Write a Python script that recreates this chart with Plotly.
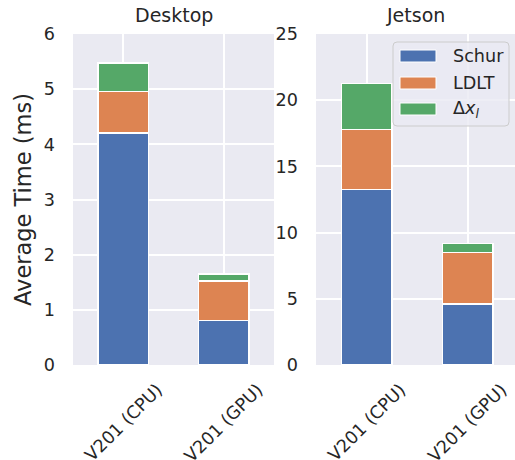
import plotly.graph_objects as go

# ---- data ----
categories = ["V201 (CPU)", "V201 (GPU)"]
series_names = ["Schur", "LDLT", "Δ<i>x</i><sub><i>l</i></sub>"]
colors = ["#4C72B0", "#DD8452", "#55A868"]

desktop_schur = [4.21, 0.81]
desktop_ldlt = [0.75, 0.71]
desktop_dx = [0.51, 0.13]

jetson_schur = [13.25, 4.60]
jetson_ldlt = [4.55, 3.90]
jetson_dx = [3.45, 0.67]

panel_titles = ["Desktop", "Jetson"]
desktop_yticks = [0, 1, 2, 3, 4, 5, 6]
jetson_yticks = [0, 5, 10, 15, 20, 25]

W, H = 515, 460
ML, MR, MT, MB = 0, 0, 34, 95
PH = H - MT - MB
TEXT = "#262626"
FONT = "DejaVu Sans"
TICK = 17.6

fig = go.Figure()

desktop = [desktop_schur, desktop_ldlt, desktop_dx]
jetson = [jetson_schur, jetson_ldlt, jetson_dx]
for vals_list, xa, ya in [(desktop, "x", "y"), (jetson, "x2", "y2")]:
    for name, vals, col in zip(series_names, vals_list, colors):
        fig.add_trace(go.Bar(
            x=categories, y=vals, name=name, xaxis=xa, yaxis=ya,
            marker=dict(color=col, line=dict(color="white", width=1.5)),
            width=0.5, showlegend=False,
        ))

axis_common = dict(
    showgrid=True, gridcolor="white", gridwidth=1.6, zeroline=False,
    showline=False, ticks="", automargin=False,
    tickfont=dict(size=TICK, family=FONT, color=TEXT),
)

fig.update_layout(
    width=W, height=H,
    margin=dict(l=ML, r=MR, t=MT, b=MB),
    paper_bgcolor="white", plot_bgcolor="#EAEAF2",
    barmode="stack", bargap=0.5,
    font=dict(family=FONT, color=TEXT),
    showlegend=False,
    xaxis=dict(domain=[73 / W, 274 / W], range=[-0.5, 1.5], type="category",
               tickangle=-45, ticklabelshift=34, ticklabelstandoff=10, **axis_common),
    xaxis2=dict(domain=[316 / W, 1.0], range=[-0.5, 1.47], type="category",
                tickangle=-45, ticklabelshift=34, ticklabelstandoff=10, **axis_common),
    yaxis=dict(domain=[0, 1], range=[0, 6], tickvals=desktop_yticks, anchor="x",
               ticklabelstandoff=17,
               title=dict(text="Average Time (ms)", font=dict(size=22.5, family=FONT, color=TEXT),
                          standoff=5),
               **axis_common),
    yaxis2=dict(domain=[0, 1], range=[0, 25], tickvals=jetson_yticks, anchor="x2",
                ticklabelstandoff=17, **axis_common),
)

# panel titles
for t, xr, yr in zip(panel_titles, ["x domain", "x2 domain"], ["y domain", "y2 domain"]):
    fig.add_annotation(text=t, x=0.5, y=1, xref=xr, yref=yr, xanchor="center",
                       yanchor="bottom", yshift=6, showarrow=False,
                       font=dict(size=19, family=FONT, color=TEXT))

# custom legend (matplotlib style) in the Jetson panel
def px_x(p):
    return p / W

def px_y(p):
    return (H - MB - p) / PH

bx0, bx1, by0, by1 = 393, 509, 42, 126
r = 4
rx, ry = r / W, r / PH
x0, x1, y0, y1 = px_x(bx0), px_x(bx1), px_y(by1), px_y(by0)
path = (f"M{x0+rx},{y0} L{x1-rx},{y0} Q{x1},{y0} {x1},{y0+ry} "
        f"L{x1},{y1-ry} Q{x1},{y1} {x1-rx},{y1} L{x0+rx},{y1} Q{x0},{y1} {x0},{y1-ry} "
        f"L{x0},{y0+ry} Q{x0},{y0} {x0+rx},{y0} Z")
fig.add_shape(type="path", path=path, xref="paper", yref="paper",
              fillcolor="rgba(234,234,242,0.8)", line=dict(color="#CCCCCC", width=1))

row_centers = [56, 83, 109]
for name, col, rc in zip(series_names, colors, row_centers):
    fig.add_shape(type="rect", xref="paper", yref="paper",
                  x0=px_x(400), x1=px_x(436), y0=px_y(rc + 6), y1=px_y(rc - 6),
                  fillcolor=col, line=dict(color="white", width=1))
    fig.add_annotation(text=name, x=px_x(451), y=px_y(rc), xref="paper", yref="paper",
                       xanchor="left", yanchor="middle", showarrow=False,
                       font=dict(size=TICK, family=FONT, color=TEXT))

fig.write_html("out.html",
               config={"displayModeBar": False},
               post_script="document.body.style.margin='0px';document.body.style.overflow='hidden';")
